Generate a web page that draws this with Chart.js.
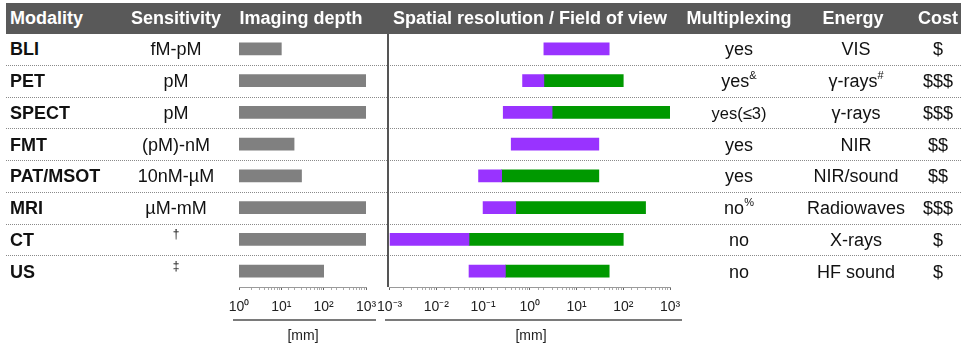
<!DOCTYPE html>
<html>
<head>
<meta charset="utf-8">
<script src="https://cdn.jsdelivr.net/npm/chart.js@4.4.1/dist/chart.umd.min.js"></script>
<style>
  html, body { margin: 0; padding: 0; background: #fff; }
  #wrap { position: relative; width: 961px; height: 347px; overflow: hidden;
          font-family: "Liberation Sans", Arial, Helvetica, sans-serif; color: #111; }
  .abs { position: absolute; white-space: nowrap; }
  .hdr { position: absolute; left: 6px; top: 3px; width: 955px; height: 31px; background: #595959; }
  .htxt { color: #fff; font-weight: bold; font-size: 18px; line-height: 31px; top: 3px; }
  .cell { font-size: 18px; height: 24px; line-height: 24px; }
  .sup { position: relative; font-size: 11px; top: -8px; }
  .sep { position: absolute; left: 6px; width: 955px; height: 0; border-top: 1px dotted #8a8a8a; }
  canvas { position: absolute; }
</style>
</head>
<body>
<div id="wrap">
  <div class="hdr"></div>
  <canvas id="depth"></canvas>
  <canvas id="res"></canvas>
</div>
<script>
// ---- data ----
const modalities   = ['BLI', 'PET', 'SPECT', 'FMT', 'PAT/MSOT', 'MRI', 'CT', 'US'];
const sensitivity  = ['fM-pM', 'pM', 'pM', '(pM)-nM', '10nM-\u00b5M', '\u00b5M-mM', '', ''];
const sensSup      = ['', '', '', '', '', '', '\u2020', '\u2021'];
const multiplexing = ['yes', 'yes', 'yes(\u22643)', 'yes', 'yes', 'no', 'no', 'no'];
const multiSup     = ['', '&', '', '', '', '%', '', ''];
const energy       = ['VIS', '\u03b3-rays', '\u03b3-rays', 'NIR', 'NIR/sound', 'Radiowaves', 'X-rays', 'HF sound'];
const energySup    = ['', '#', '', '', '', '', '', ''];
const cost         = ['$', '$$$', '$$$', '$$', '$$', '$$$', '$', '$'];

// imaging depth [mm]
const depthMin = [1, 1, 1, 1, 1, 1, 1, 1];
const depthMax = [10, 1000, 1000, 20, 30, 1000, 1000, 100];
// spatial resolution (purple) and field of view (green) [mm]
const resMin = [2, 0.7, 0.27, 0.4, 0.08, 0.1, 0.001, 0.05];
const resMid = [null, 2, 3, null, 0.25, 0.5, 0.05, 0.3];
const resMax = [50, 100, 1000, 30, 30, 300, 100, 50];

const depthTicks = [1, 10, 100, 1000];
const resTicks   = [0.001, 0.01, 0.1, 1, 10, 100, 1000];

const headers = [
  { t: 'Modality', left: 10 },
  { t: 'Sensitivity', c: 176 },
  { t: 'Imaging depth', c: 301 },
  { t: 'Spatial resolution / Field of view', c: 530 },
  { t: 'Multiplexing', c: 739 },
  { t: 'Energy', c: 853 },
  { t: 'Cost', left: 918 }
];

// ---- layout ----
const wrap = document.getElementById('wrap');
const AREA_TOP = 33, AREA_H = 254, AXIS_H = 36;
const band = AREA_H / modalities.length;
const rowC = i => AREA_TOP + band * (i + 0.5);

headers.forEach(h => {
  const d = document.createElement('div');
  d.className = 'abs htxt';
  d.textContent = h.t;
  if (h.left !== undefined) { d.style.left = h.left + 'px'; }
  else { d.style.left = (h.c - 200) + 'px'; d.style.width = '400px'; d.style.textAlign = 'center'; }
  wrap.appendChild(d);
});

for (let i = 1; i < modalities.length; i++) {
  const s = document.createElement('div');
  s.className = 'sep';
  s.style.top = Math.round(AREA_TOP + band * i) + 'px';
  wrap.appendChild(s);
}

function cell(text, sup, i, opts) {
  const d = document.createElement('div');
  d.className = 'abs cell';
  d.style.top = (rowC(i) - 11.5) + 'px';
  if (opts.left !== undefined) d.style.left = opts.left + 'px';
  else { d.style.left = (opts.c - 70) + 'px'; d.style.width = '140px'; d.style.textAlign = 'center'; }
  if (opts.bold) d.style.fontWeight = 'bold';
  if (opts.size) d.style.fontSize = opts.size + 'px';
  d.appendChild(document.createTextNode(text));
  if (sup) {
    const s = document.createElement('span');
    s.className = 'sup';
    if (opts.supSize) s.style.fontSize = opts.supSize + 'px';
    s.textContent = sup;
    d.appendChild(s);
  }
  wrap.appendChild(d);
}

modalities.forEach((m, i) => {
  cell(m, '', i, { left: 10, bold: true });
  cell(sensitivity[i], sensSup[i], i, { c: 176, supSize: 12 });
  cell(multiplexing[i], multiSup[i], i, { c: 739, size: multiplexing[i].length > 4 ? 16.5 : 18 });
  cell(energy[i], energySup[i], i, { c: 856 });
  cell(cost[i], '', i, { c: 938 });
});

// vertical divider, bottom rules, unit labels
function box(l, t, w, h, bg) {
  const d = document.createElement('div');
  d.className = 'abs';
  Object.assign(d.style, { left: l + 'px', top: t + 'px', width: w + 'px', height: h + 'px', background: bg });
  wrap.appendChild(d);
}
box(387, 34, 1.5, AREA_TOP + AREA_H - 34, '#555');
box(233, 319, 143, 2, '#7a7a7a');
box(385, 319, 297, 2, '#7a7a7a');
function unit(c) {
  const d = document.createElement('div');
  d.className = 'abs';
  Object.assign(d.style, { left: (c - 40) + 'px', width: '80px', top: '327px', textAlign: 'center', fontSize: '14px', color: '#222' });
  d.textContent = '[mm]';
  wrap.appendChild(d);
}
unit(303); unit(531);

// ---- charts ----
const supMap = { '0': '\u2070', '1': '\u00b9', '2': '\u00b2', '3': '\u00b3', '-': '\u207b' };
const decLabel = v => '10' + String(Math.round(Math.log10(v))).split('').map(ch => supMap[ch]).join('');

function setupCanvas(id, left, width) {
  const c = document.getElementById(id);
  c.width = width; c.height = AREA_H + AXIS_H;
  c.style.left = left + 'px'; c.style.top = AREA_TOP + 'px';
  c.style.width = width + 'px'; c.style.height = (AREA_H + AXIS_H) + 'px';
  return c;
}

function xScale(min, max, ticksList) {
  const major = v => ticksList.some(t => Math.abs(t - v) / t < 1e-6);
  return {
    type: 'logarithmic', min: min, max: max,
    afterFit: s => { s.height = AXIS_H; },
    grid: {
      display: true, drawOnChartArea: false, drawTicks: true, tickLength: 3,
      color: ctx => (ctx.tick && major(ctx.tick.value)) ? '#666' : '#aaa',
      lineWidth: 1
    },
    border: { display: true, color: '#9a9a9a', width: 1 },
    ticks: {
      autoSkip: false, maxRotation: 0, minRotation: 0, padding: 9,
      color: '#222', font: { family: '"Liberation Sans", Arial, sans-serif', size: 14 },
      callback: v => major(v) ? decLabel(v) : ''
    }
  };
}

const PAD = 20;
const depthCanvas = setupCanvas('depth', 239 - PAD, 127 + 2 * PAD);
new Chart(depthCanvas, {
  type: 'bar',
  data: {
    labels: modalities,
    datasets: [{
      data: modalities.map((m, i) => [depthMin[i], depthMax[i]]),
      backgroundColor: '#808080', borderWidth: 0, barThickness: 12
    }]
  },
  options: {
    indexAxis: 'y', responsive: false, animation: false,
    layout: { padding: { left: PAD, right: PAD, top: 0, bottom: 0 } },
    plugins: { legend: { display: false }, tooltip: { enabled: false } },
    scales: { y: { display: false }, x: xScale(1, 1000, depthTicks) }
  }
});

const resCanvas = setupCanvas('res', 388 - PAD, 282 + 2 * PAD);
new Chart(resCanvas, {
  type: 'bar',
  data: {
    labels: modalities,
    datasets: [
      {
        label: 'Spatial resolution',
        data: modalities.map((m, i) => [resMin[i], resMid[i] !== null ? resMid[i] : resMax[i]]),
        backgroundColor: '#9933ff', borderWidth: 0, barThickness: 12, grouped: false
      },
      {
        label: 'Field of view',
        data: modalities.map((m, i) => resMid[i] !== null ? [resMid[i], resMax[i]] : null),
        backgroundColor: '#009900', borderWidth: 0, barThickness: 12, grouped: false
      }
    ]
  },
  options: {
    indexAxis: 'y', responsive: false, animation: false,
    layout: { padding: { left: PAD, right: PAD, top: 0, bottom: 0 } },
    plugins: { legend: { display: false }, tooltip: { enabled: false } },
    scales: { y: { display: false }, x: xScale(0.001, 1000, resTicks) }
  }
});
</script>
</body>
</html>
